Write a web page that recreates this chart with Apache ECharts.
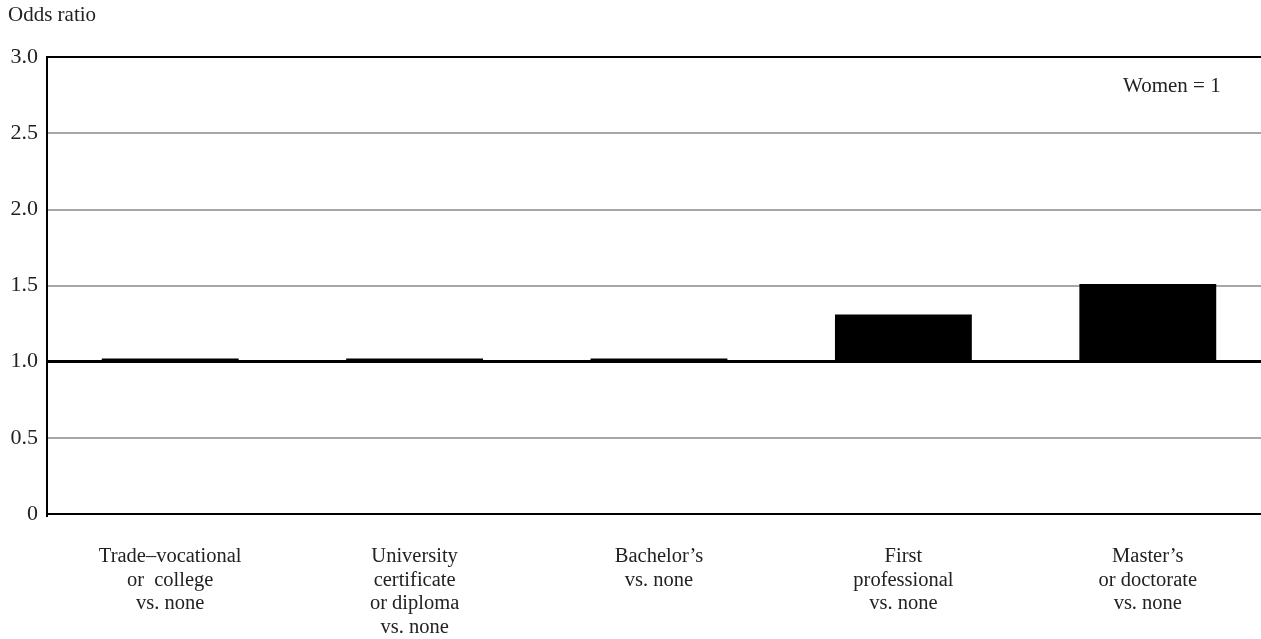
<!DOCTYPE html>
<html><head><meta charset="utf-8">
<script src="https://cdn.jsdelivr.net/npm/echarts@6/dist/echarts.min.js"></script>
<style>html,body{margin:0;padding:0;background:#fff;overflow:hidden}#c{width:1272px;height:639px}</style>
</head><body><div id="c"></div>
<script>
const categories = [
  "Trade–vocational\nor  college\nvs. none",
  "University\ncertificate\nor diploma\nvs. none",
  "Bachelor’s\nvs. none",
  "First\nprofessional\nvs. none",
  "Master’s\nor doctorate\nvs. none"
];
const oddsRatios = [1.02, 1.02, 1.02, 1.31, 1.51];
const reference = 1.0;
const yTicks = [0, 0.5, 1.0, 1.5, 2.0, 2.5, 3.0];

const font = "Liberation Serif";
const chart = echarts.init(document.getElementById('c'));
chart.setOption({
  animation: false,
  textStyle: {fontFamily: font},
  grid: {left: 48, top: 57, width: 1222, height: 459, containLabel: false},
  graphic: [
    {type: 'text', left: 8, top: 5, style: {text: 'Odds ratio', fontFamily: font, fontSize: 21, fill: '#222'}},
    {type: 'text', left: 1123, top: 76, style: {text: 'Women = 1', fontFamily: font, fontSize: 21, fill: '#222'}},
    {type: 'line', shape: {x1: 47, y1: 56, x2: 47, y2: 517}, style: {stroke: '#000', lineWidth: 2}, z: 100}
  ],
  xAxis: {
    type: 'category', data: categories,
    axisLine: {lineStyle: {color: '#000', width: 2}},
    axisTick: {show: false},
    axisLabel: {interval: 0, margin: 31, fontSize: 20.5, lineHeight: 23.5, color: '#222', fontFamily: font, align: 'center'}
  },
  yAxis: {
    type: 'value', min: 0, max: 3, interval: 0.5,
    axisLine: {show: false},
    axisTick: {show: false},
    axisLabel: {fontSize: 22, color: '#222', fontFamily: font, margin: 10,
      formatter: v => { const t = yTicks.find(x => Math.abs(x - v) < 1e-9); return t === 0 ? '0' : t.toFixed(1); }},
    splitLine: {show: true, lineStyle: {color: '#8a8a8a', width: 1.5}}
  },
  series: [
    {type: 'bar', stack: 'a', data: oddsRatios.map(() => reference), barWidth: '56%',
     itemStyle: {color: 'transparent'}, silent: true,
     markLine: {symbol: 'none', silent: true, label: {show: false},
       data: [{yAxis: reference, lineStyle: {color: '#000', width: 3, type: 'solid'}},
              {yAxis: 3, lineStyle: {color: '#000', width: 2, type: 'solid'}}]}},
    {type: 'bar', stack: 'a', data: oddsRatios.map(v => +(v - reference).toFixed(3)), barWidth: '56%',
     itemStyle: {color: '#000'}}
  ]
});
</script></body></html>
